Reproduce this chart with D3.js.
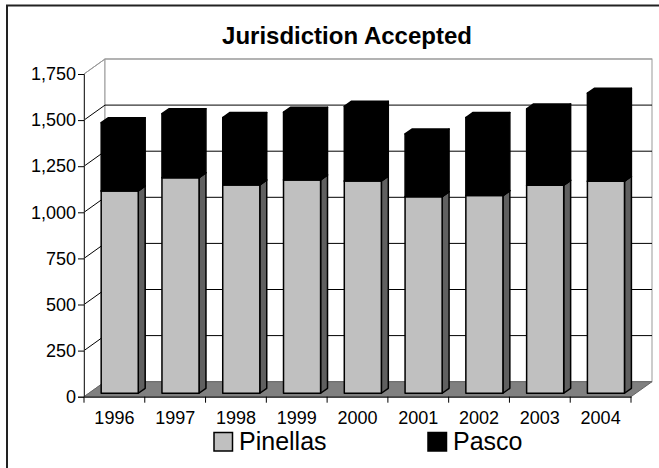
<!DOCTYPE html>
<html>
<head>
<meta charset="utf-8">
<script src="https://cdn.jsdelivr.net/npm/d3@7"></script>
<style>
body { margin: 0; background: #fff; }
text { font-family: Arial, "Liberation Sans", sans-serif; }
</style>
</head>
<body>
<div id="chart"></div>
<script>
// datos
var years = ["1996", "1997", "1998", "1999", "2000", "2001", "2002", "2003", "2004"];
var pinellas = [1097, 1169, 1130, 1157, 1151, 1066, 1072, 1128, 1150];
var pasco = [370, 347, 365, 367, 405, 340, 423, 414, 477];
var y_ticks = [0, 250, 500, 750, 1000, 1250, 1500, 1750];
var series_names = ["Pinellas", "Pasco"];

var svg_w = 659, svg_h = 468;

// profundidad 3d
var DX = 21, DY = 15;
var bar_f0 = 0.23, bar_depth = 0.33;

var svg = d3.select("#chart")
	.append("svg")
	.attr("width", svg_w)
	.attr("height", svg_h);

// marco
svg.append("rect")
	.attr("x", 7)
	.attr("y", 5.5)
	.attr("width", 700)
	.attr("height", 500)
	.attr("fill", "#fff")
	.attr("stroke", "#222")
	.attr("stroke-width", 2);

// escalas
var x = d3.scaleBand()
	.domain(years)
	.range([84, 631]);

var y = d3.scaleLinear()
	.domain([0, 1750])
	.range([396.7, 74]);

function pt(px, v, f) {
	return [px + f * DX, y(v) - f * DY];
}

var x0 = x.range()[0], x1 = x.range()[1];

// paredes
svg.append("polygon")
	.attr("points", [[x0, y(0)], [x0, y(1750)], [x0 + DX, y(1750) - DY], [x0 + DX, y(0) - DY]].join(" "))
	.attr("fill", "#fff")
	.attr("stroke", "#999");

svg.append("rect")
	.attr("x", x0 + DX)
	.attr("y", y(1750) - DY)
	.attr("width", x1 - x0)
	.attr("height", y(0) - y(1750))
	.attr("fill", "#fff")
	.attr("stroke", "#999");

// piso
svg.append("polygon")
	.attr("points", [[x0, y(0)], [x1, y(0)], [x1 + DX, y(0) - DY], [x0 + DX, y(0) - DY]].join(" "))
	.attr("fill", "#808080")
	.attr("stroke", "#666");

// lineas de grilla
var grid = svg.append("g").attr("class", "grid");
y_ticks.filter(function(v) { return v > 0; }).forEach(function(v) {
	var col = v == 1750 ? "#999" : "#000";
	grid.append("line")
		.attr("x1", x0 + DX).attr("x2", x1 + DX)
		.attr("y1", y(v) - DY).attr("y2", y(v) - DY)
		.attr("stroke", col);
	grid.append("line")
		.attr("x1", x0).attr("x2", x0 + DX)
		.attr("y1", y(v)).attr("y2", y(v) - DY)
		.attr("stroke", col);
});

// barras apiladas
var bw = x.bandwidth() * 0.61;
var stacked = [];
for (var i = 0; i < years.length; i++) {
	stacked.push({ year: years[i], lo: 0, hi: pinellas[i], face: "#c0c0c0", side: "#606060", top: "#c0c0c0" });
	stacked.push({ year: years[i], lo: pinellas[i], hi: pinellas[i] + pasco[i], face: "#000", side: "#000", top: "#000" });
}

var bars = svg.append("g").attr("class", "bars");
stacked.forEach(function(d) {
	var left = x(d.year) + (x.bandwidth() - bw) / 2 + 0.5;
	var right = left + bw;
	var f0 = bar_f0, f1 = bar_f0 + bar_depth;
	var g = bars.append("g")
		.attr("stroke", "#000")
		.attr("stroke-width", 1.5)
		.attr("stroke-linejoin", "round");
	// lado
	g.append("polygon")
		.attr("points", [pt(right, d.lo, f0), pt(right, d.lo, f1), pt(right, d.hi, f1), pt(right, d.hi, f0)].join(" "))
		.attr("fill", d.side);
	// arriba
	g.append("polygon")
		.attr("points", [pt(left, d.hi, f0), pt(right, d.hi, f0), pt(right, d.hi, f1), pt(left, d.hi, f1)].join(" "))
		.attr("fill", d.top);
	// frente
	var a = pt(left, d.hi, f0), b = pt(right, d.lo, f0);
	g.append("rect")
		.attr("x", a[0])
		.attr("y", a[1])
		.attr("width", b[0] - a[0])
		.attr("height", b[1] - a[1])
		.attr("fill", d.face);
});

// ejes
var y_axis = d3.axisLeft(y)
	.tickValues(y_ticks)
	.tickFormat(d3.format(","))
	.tickSize(6)
	.tickPadding(2);

svg.append("g")
	.attr("transform", "translate(" + x0 + ",0)")
	.call(y_axis)
	.call(function(g) {
		g.select(".domain").attr("stroke", "#333");
		g.selectAll("text").attr("font-size", 18).attr("fill", "#000")
			.style("font-family", "Arial, 'Liberation Sans', sans-serif");
	});

var x_axis = d3.axisBottom(x)
	.tickSize(0)
	.tickPadding(15);

svg.append("g")
	.attr("transform", "translate(0," + y(0) + ")")
	.call(x_axis)
	.call(function(g) {
		g.select(".domain").attr("stroke", "#000");
		g.selectAll("text").attr("font-size", 18).attr("fill", "#000")
			.style("font-family", "Arial, 'Liberation Sans', sans-serif");
	});

// marcas entre categorias
var bounds = years.map(function(d) { return x(d); }).concat([x1]);
svg.append("g").selectAll("line")
	.data(bounds)
	.enter()
	.append("line")
	.attr("x1", function(d) { return d; })
	.attr("x2", function(d) { return d; })
	.attr("y1", y(0))
	.attr("y2", y(0) + 6)
	.attr("stroke", "#000");

// titulo
svg.append("text")
	.attr("x", 347)
	.attr("y", 44)
	.attr("text-anchor", "middle")
	.attr("font-size", 24)
	.attr("font-weight", "bold")
	.text("Jurisdiction Accepted");

// leyenda
var leg_x = [214, 428];
var leg_fill = ["#c0c0c0", "#000"];
var legend = svg.append("g").attr("class", "legend");
series_names.forEach(function(name, k) {
	legend.append("rect")
		.attr("x", leg_x[k])
		.attr("y", 432.5)
		.attr("width", 18.5)
		.attr("height", 18.5)
		.attr("fill", leg_fill[k])
		.attr("stroke", "#000")
		.attr("stroke-width", 1.5);
	legend.append("text")
		.attr("x", leg_x[k] + 25)
		.attr("y", 450)
		.attr("font-size", 25)
		.text(name);
});
</script>
</body>
</html>
